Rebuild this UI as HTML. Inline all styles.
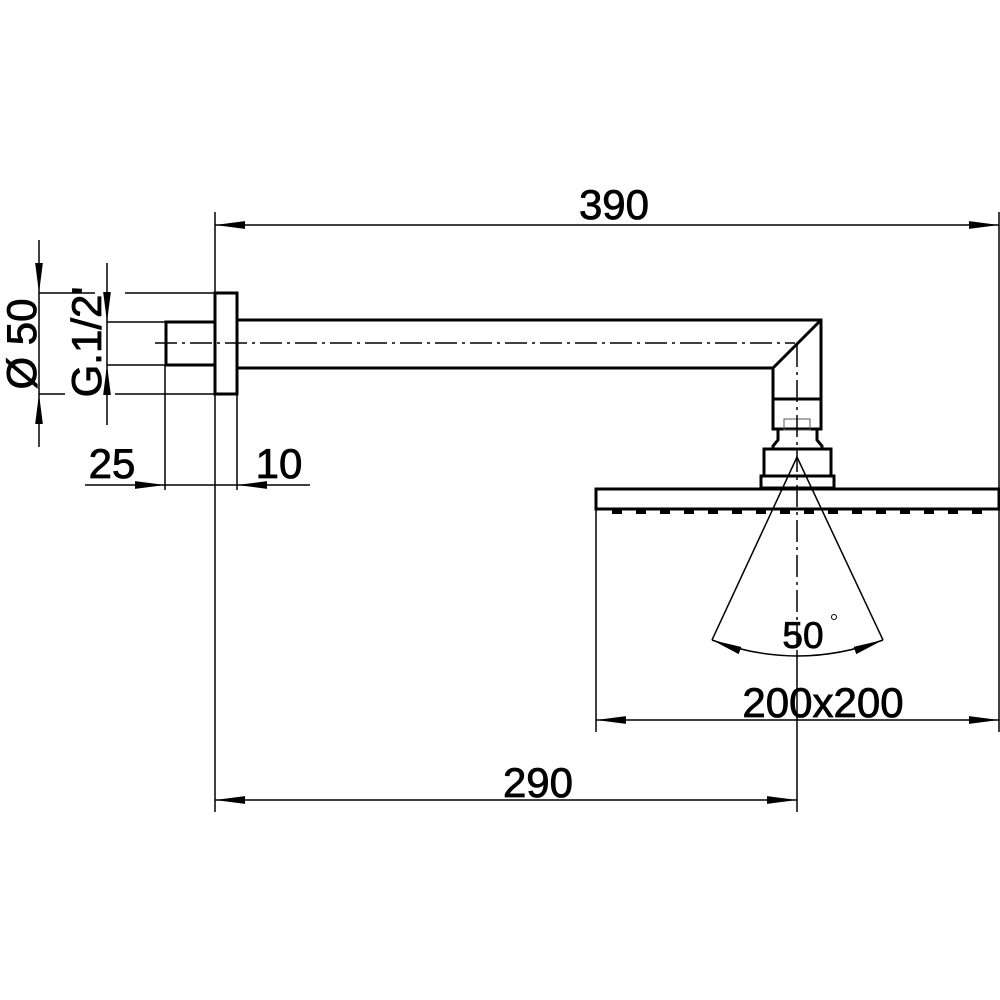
<!DOCTYPE html>
<html><head><meta charset="utf-8"><style>
html,body{margin:0;padding:0;background:#fff}
svg{display:block}
text{font-family:"Liberation Sans",Arial,sans-serif;fill:#000;stroke:#000;stroke-width:0.8}
</style></head><body>
<svg width="1000" height="1000" viewBox="0 0 1000 1000" xmlns="http://www.w3.org/2000/svg">
<defs>
<marker id="a" viewBox="0 0 10 10" refX="10" refY="5" markerWidth="30" markerHeight="11" markerUnits="userSpaceOnUse" orient="auto-start-reverse" preserveAspectRatio="none"><path d="M0,1.5 L10,5 L0,8.5 Z" fill="#000"/></marker>
</defs>
<g stroke="#000" fill="none" stroke-width="1.5">
<line x1="215" y1="225" x2="999" y2="225" marker-start="url(#a)" marker-end="url(#a)"/>
<line x1="215" y1="212" x2="215" y2="812"/>
<line x1="999" y1="212" x2="999" y2="489"/>
<line x1="999" y1="509" x2="999" y2="732"/>
<line x1="215" y1="800" x2="797" y2="800" marker-start="url(#a)" marker-end="url(#a)"/>
<line x1="596" y1="720" x2="999" y2="720" marker-start="url(#a)" marker-end="url(#a)"/>
<line x1="596" y1="509" x2="596" y2="732"/>
<line x1="797" y1="650" x2="797" y2="812"/>
<line x1="39" y1="240" x2="39" y2="293" marker-end="url(#a)"/>
<line x1="39" y1="447" x2="39" y2="394" marker-end="url(#a)"/>
<line x1="39" y1="293" x2="39" y2="394"/>
<line x1="39" y1="293" x2="95" y2="293"/><line x1="125" y1="293" x2="215" y2="293"/>
<line x1="39" y1="394" x2="65" y2="394"/><line x1="115" y1="394" x2="215" y2="394"/>
<line x1="107" y1="263" x2="107" y2="322" marker-end="url(#a)"/>
<line x1="107" y1="425" x2="107" y2="365" marker-end="url(#a)"/>
<line x1="107" y1="322" x2="107" y2="365"/>
<line x1="107" y1="322" x2="165" y2="322"/>
<line x1="107" y1="365" x2="165" y2="365"/>
<line x1="85" y1="485" x2="165" y2="485" marker-end="url(#a)"/>
<line x1="310" y1="485" x2="237" y2="485" marker-end="url(#a)"/>
<line x1="165" y1="485" x2="237" y2="485"/>
<line x1="165" y1="365" x2="165" y2="490"/>
<line x1="237" y1="394" x2="237" y2="490"/>
<line x1="797" y1="457" x2="712" y2="640"/>
<line x1="797" y1="457" x2="883" y2="640"/>
<path d="M712,640 Q797,672 883,640" marker-start="url(#a)" marker-end="url(#a)"/>
<circle cx="834" cy="617" r="2.5" stroke-width="1"/>
</g>
<g stroke="#000" fill="none" stroke-width="3">
<rect x="166" y="322" width="49" height="43"/>
<rect x="215" y="293" width="22" height="101"/>
<path d="M237,320 L821,320 L821,399 M237,368 L773,368 L773,399 M773,368 L821,320"/>
<rect x="773" y="399" width="48" height="30"/>
<path d="M778,429 L778,440 L773,446 L773,449 M817,429 L817,440 L822,446 L822,449"/>
<rect x="764" y="449" width="67" height="27"/>
<rect x="761" y="476" width="73" height="12"/>
<rect x="596" y="489" width="403" height="20"/>
</g>
<rect x="784" y="419" width="26" height="11" fill="none" stroke="#555" stroke-width="1"/>
<g stroke="#000" stroke-width="4" stroke-dasharray="10 14">
<line x1="612" y1="512" x2="990" y2="512"/>
</g>
<g stroke="#000" stroke-width="1.5" fill="none" stroke-dasharray="22 5 3 5">
<line x1="155" y1="343" x2="795" y2="343"/>
<line x1="797" y1="345" x2="797" y2="650"/>
</g>
<text x="614" y="219" font-size="42" text-anchor="middle">390</text>
<text x="538" y="797" font-size="42" text-anchor="middle">290</text>
<text x="823" y="717" font-size="42" text-anchor="middle">200x200</text>
<text x="803" y="648" font-size="37" text-anchor="middle">50</text>
<text x="112" y="478" font-size="42" text-anchor="middle">25</text>
<text x="279" y="478" font-size="42" text-anchor="middle">10</text>
<text transform="translate(36,344) rotate(-90)" font-size="42" text-anchor="middle">Ø 50</text>
<text transform="translate(101,342) rotate(-90)" font-size="42" text-anchor="middle">G.1/2'</text>
</svg>
</body></html>
